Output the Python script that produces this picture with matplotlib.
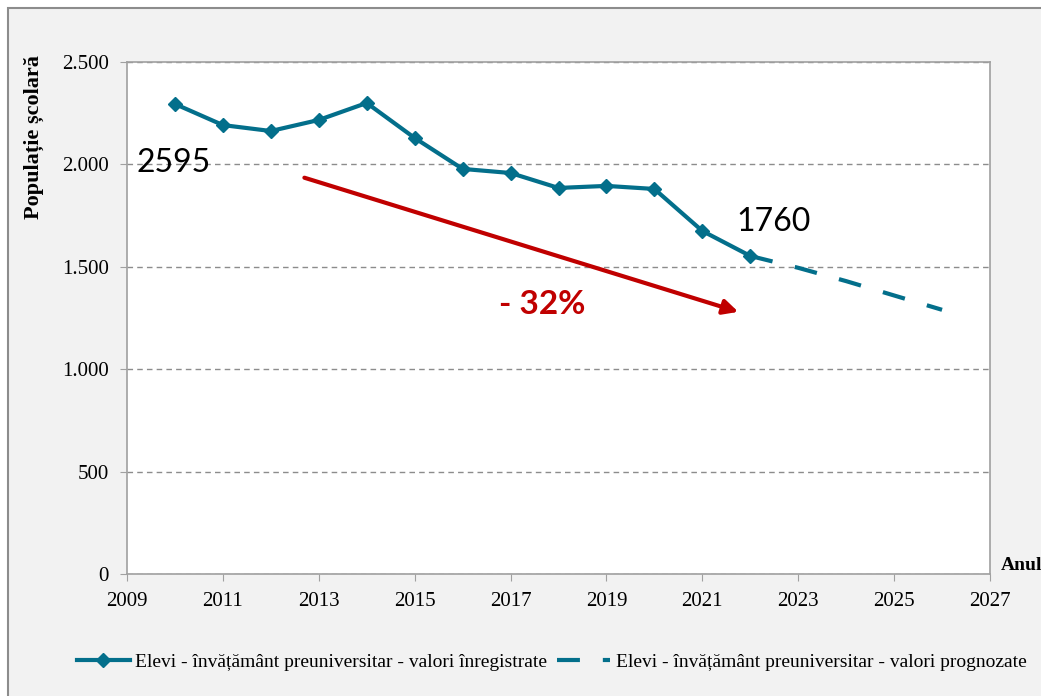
import matplotlib.pyplot as plt
import matplotlib.patches as mpatches
from matplotlib.ticker import FuncFormatter

years_rec = [2010, 2011, 2012, 2013, 2014, 2015, 2016, 2017, 2018, 2019, 2020, 2021, 2022]
elevi_rec = [2295, 2192, 2163, 2217, 2300, 2129, 1978, 1958, 1885, 1895, 1880, 1675, 1553]

years_prog = [2022, 2023, 2024, 2025, 2026]
elevi_prog = [1553, 1495, 1430, 1360, 1290]

label_rec = 'Elevi - învățământ preuniversitar - valori înregistrate'
label_prog = 'Elevi - învățământ preuniversitar - valori prognozate'

blue = '#036F8B'
red = '#C00000'
serif = 'Liberation Serif'

fig = plt.figure(figsize=(10.41, 6.96), dpi=100)
fig.patch.set_facecolor('white')
# chart frame
frame = mpatches.Rectangle((8 / 1041, -0.01), 1.0, 1.01 - 8 / 696,
                           transform=fig.transFigure,
                           facecolor='#F2F2F2', edgecolor='#8C8C8C',
                           linewidth=1.5, zorder=-5)
fig.add_artist(frame)

ax = fig.add_axes([127 / 1041, 122 / 696, 863 / 1041, 512 / 696])
ax.set_facecolor('white')

ax.plot(years_rec, elevi_rec, color=blue, linewidth=3, marker='D',
        markersize=7, label=label_rec, zorder=3)
ax.plot(years_prog, elevi_prog, color=blue, linewidth=3, dashes=(5.5, 5.5),
        label=label_prog, zorder=3)

ax.set_xlim(2009, 2027)
ax.set_ylim(0, 2500)
ax.set_xticks(range(2009, 2028, 2))
ax.set_yticks(range(0, 2501, 500))
ax.yaxis.set_major_formatter(FuncFormatter(lambda v, p: f'{int(v):,}'.replace(',', '.')))

ax.grid(axis='y', color='#8C8C8C', linestyle=(0, (4, 3)), linewidth=1)
ax.set_axisbelow(True)
for s in ax.spines.values():
    s.set_color('#A0A0A0')
    s.set_linewidth(1.2)
ax.tick_params(direction='out', length=5, color='#A0A0A0', labelsize=15)
ax.tick_params(axis='x', pad=8)
ax.tick_params(axis='y', pad=8)
for lab in ax.get_xticklabels() + ax.get_yticklabels():
    lab.set_fontfamily(serif)

ax.set_ylabel('Populație școlară', fontfamily=serif, fontweight='bold',
              fontsize=16)
ax.yaxis.set_label_coords(-0.096, 0.854)
ax.text(1.012, 0.0, 'Anul', transform=ax.transAxes, fontfamily=serif,
        fontweight='bold', fontsize=14, ha='left', va='bottom')

# annotations
ax.annotate('', xy=(2021.75, 1280), xytext=(2012.7, 1935),
            arrowprops=dict(arrowstyle='-|>', color=red, lw=3,
                            mutation_scale=22, shrinkA=0, shrinkB=0))
ax.text(2009.2, 2005, '2595', fontfamily='Lato', fontsize=23,
        ha='left', va='center', color='black')
ax.text(2021.7, 1720, '1760', fontfamily='Lato', fontsize=23,
        ha='left', va='center', color='black')
ax.text(2017.67, 1318, '- 32%', fontfamily='Lato', fontsize=24,
        fontweight='bold', ha='center', va='center', color=red)

leg = fig.legend(loc='center', bbox_to_anchor=(0.53, 34 / 696), ncol=2,
                 frameon=False, prop={'family': serif, 'size': 14},
                 handlelength=2.7, columnspacing=0.5, handletextpad=0.3)

fig.savefig('out.png', dpi=100, facecolor=fig.get_facecolor())
